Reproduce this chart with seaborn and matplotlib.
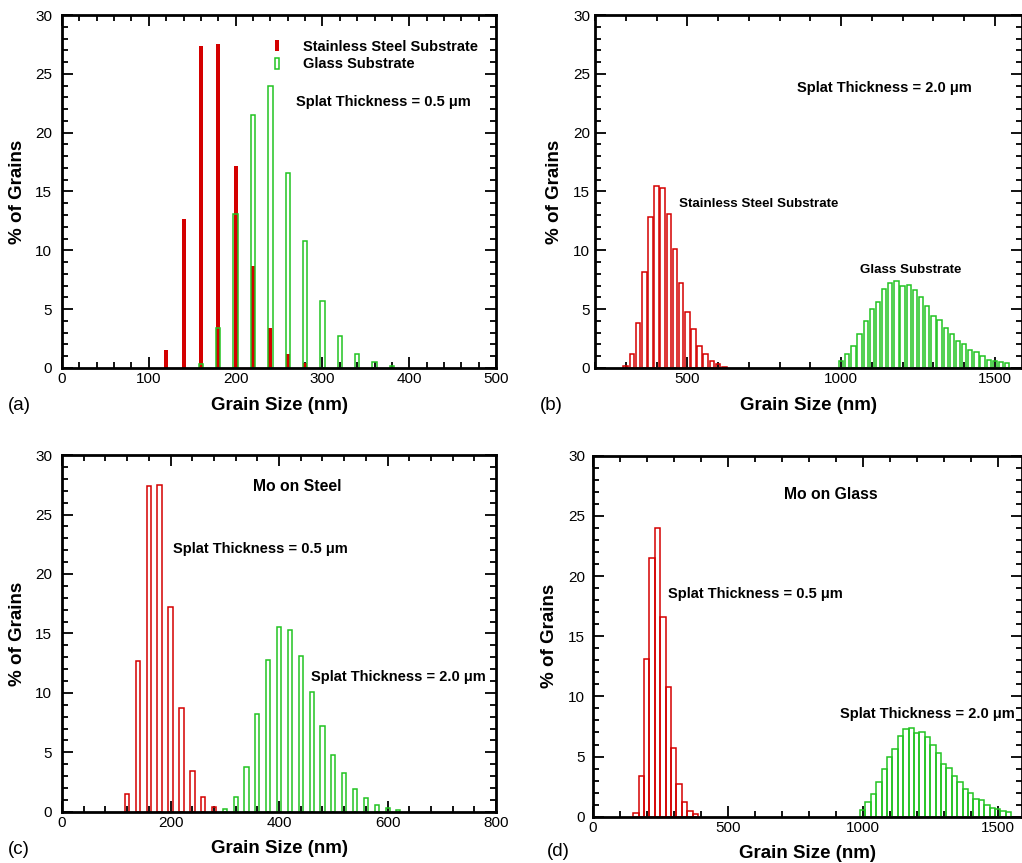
import matplotlib
matplotlib.use("Agg")
import matplotlib.pyplot as plt
from matplotlib.ticker import MultipleLocator
from matplotlib.patches import Patch
import seaborn as sns

# Grain size distributions (% of grains per 20 nm bin)
steel_05_x = [120, 140, 160, 180, 200, 220, 240, 260, 280]
steel_05 = [1.5, 12.7, 27.4, 27.5, 17.2, 8.7, 3.4, 1.2, 0.4]

glass_05_x = [160, 180, 200, 220, 240, 260, 280, 300, 320, 340, 360, 380]
glass_05 = [0.3, 3.4, 13.1, 21.5, 24.0, 16.6, 10.8, 5.7, 2.7, 1.2, 0.5, 0.2]

steel_20_x = [300, 320, 340, 360, 380, 400, 420, 440, 460, 480, 500, 520,
              540, 560, 580, 600, 620]
steel_20 = [0.2, 1.2, 3.8, 8.2, 12.8, 15.5, 15.3, 13.1, 10.1, 7.2, 4.8, 3.3,
            1.9, 1.15, 0.6, 0.3, 0.12]

glass_20_x = [1000, 1020, 1040, 1060, 1080, 1100, 1120, 1140, 1160, 1180,
              1200, 1220, 1240, 1260, 1280, 1300, 1320, 1340, 1360, 1380,
              1400, 1420, 1440, 1460, 1480, 1500, 1520, 1540]
glass_20 = [0.6, 1.2, 1.9, 2.9, 4.0, 5.0, 5.6, 6.7, 7.25, 7.4,
            6.95, 7.05, 6.6, 6.0, 5.3, 4.4, 4.05, 3.4, 2.9, 2.3,
            2.0, 1.5, 1.4, 1.0, 0.72, 0.62, 0.5, 0.42]

RED = "#d40000"
GREEN = "#22c322"

sns.set_style("ticks")
plt.rcParams["font.family"] = ["Liberation Sans", "DejaVu Sans"]
plt.rcParams["text.color"] = "black"
plt.rcParams["axes.labelcolor"] = "black"
plt.rcParams["xtick.color"] = "black"
plt.rcParams["ytick.color"] = "black"

fig = plt.figure(figsize=(10.22, 8.63), dpi=100)
ax_a = fig.add_axes([0.0607, 0.5736, 0.4247, 0.409])
ax_b = fig.add_axes([0.5822, 0.5736, 0.4175, 0.409])
ax_c = fig.add_axes([0.0607, 0.0594, 0.4247, 0.4133])
ax_d = fig.add_axes([0.5800, 0.0536, 0.4198, 0.4184])


def bars(ax, x, y, color, width, fill):
    sns.barplot(x=x, y=y, ax=ax, native_scale=True, width=width, color=color,
                saturation=1, fill=fill, linewidth=0 if fill else 1.1,
                errorbar=None)


# (a) 0.5 um splats on both substrates
bars(ax_a, steel_05_x, steel_05, RED, 0.23, True)
bars(ax_a, glass_05_x, glass_05, GREEN, 0.25, False)
# (b) 2.0 um splats on both substrates
bars(ax_b, steel_20_x, steel_20, RED, 0.75, False)
bars(ax_b, glass_20_x, glass_20, GREEN, 0.7, False)
# (c) Mo on steel
bars(ax_c, steel_05_x, steel_05, RED, 0.42, False)
bars(ax_c, steel_20_x, steel_20, GREEN, 0.38, False)
# (d) Mo on glass
bars(ax_d, glass_05_x, glass_05, RED, 1.0, False)
bars(ax_d, glass_20_x, glass_20, GREEN, 1.0, False)


def style(ax, xlim, major, minor, ypad):
    ax.set_xlim(*xlim)
    ax.set_ylim(0, 30)
    ax.xaxis.set_major_locator(MultipleLocator(major))
    ax.xaxis.set_minor_locator(MultipleLocator(minor))
    ax.yaxis.set_major_locator(MultipleLocator(5))
    ax.yaxis.set_minor_locator(MultipleLocator(1))
    ax.tick_params(which="both", direction="in", top=True, right=True,
                   width=1.3, labelsize=11, colors="black")
    ax.tick_params(which="major", length=8)
    ax.tick_params(which="minor", length=4)
    ax.tick_params(axis="x", pad=3)
    ax.tick_params(axis="y", pad=ypad)
    for sp in ax.spines.values():
        sp.set_visible(True)
        sp.set_linewidth(2.0)
        sp.set_color("black")
    ax.set_xlabel("Grain Size (nm)", fontsize=13.5, fontweight="bold", labelpad=7.5)
    ax.set_ylabel("% of Grains", fontsize=13.5, fontweight="bold", labelpad=7)


style(ax_a, (0, 500), 100, 20, 7)
style(ax_b, (200, 1587), 500, 100, 3.5)
style(ax_c, (0, 800), 200, 40, 7)
style(ax_d, (0, 1589), 500, 100, 5.5)

bold = dict(fontweight="bold", va="center", ha="left")

# (a) legend and label
handles = [Patch(facecolor=RED, edgecolor="none", label="Stainless Steel Substrate"),
           Patch(facecolor="none", edgecolor=GREEN, linewidth=1.1, label="Glass Substrate")]
ax_a.legend(handles=handles, loc="upper left", bbox_to_anchor=(0.49, 0.93),
            frameon=False, borderpad=0, borderaxespad=0, handlelength=0.27,
            handleheight=0.78, handletextpad=1.7, labelspacing=0.25,
            prop=dict(size=10.5, weight="bold"))
ax_a.text(269.6, 22.6, "Splat Thickness = 0.5 \u03bcm", fontsize=10.5, **bold)

ax_b.text(856.7, 23.8, "Splat Thickness = 2.0 \u03bcm", fontsize=10.5, **bold)
ax_b.text(473, 13.93, "Stainless Steel Substrate", fontsize=9.6, **bold)
ax_b.text(1061.5, 8.33, "Glass Substrate", fontsize=9.6, **bold)

ax_c.text(433, 27.33, "Mo on Steel", fontsize=11.3, fontweight="bold",
          va="center", ha="center")
ax_c.text(204.6, 22.1, "Splat Thickness = 0.5 \u03bcm", fontsize=10.5, **bold)
ax_c.text(458.4, 11.33, "Splat Thickness = 2.0 \u03bcm", fontsize=10.5, **bold)

ax_d.text(882.6, 26.78, "Mo on Glass", fontsize=11.3, fontweight="bold",
          va="center", ha="center")
ax_d.text(279, 18.5, "Splat Thickness = 0.5 \u03bcm", fontsize=10.5, **bold)
ax_d.text(914.8, 8.53, "Splat Thickness = 2.0 \u03bcm", fontsize=10.5, **bold)

# panel letters
fig.text(8 / 1022, 1 - 405 / 863, "(a)", fontsize=13.5, va="center")
fig.text(540 / 1022, 1 - 405 / 863, "(b)", fontsize=13.5, va="center")
fig.text(8 / 1022, 1 - 849 / 863, "(c)", fontsize=13.5, va="center")
fig.text(547 / 1022, 1 - 851 / 863, "(d)", fontsize=13.5, va="center")

fig.savefig("out.png", dpi=100)
